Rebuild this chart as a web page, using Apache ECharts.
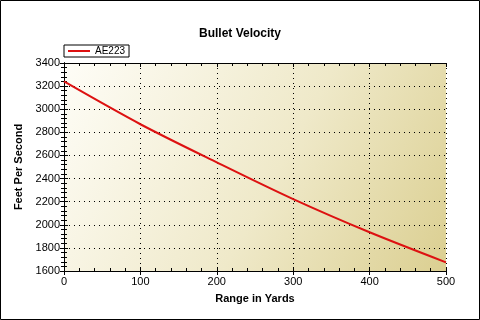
<!DOCTYPE html>
<html>
<head>
<meta charset="utf-8">
<script src="https://cdn.jsdelivr.net/npm/echarts@6/dist/echarts.min.js"></script>
<style>
  html, body { margin: 0; padding: 0; background: #fff; }
  #chart { width: 480px; height: 320px; }
</style>
</head>
<body>
<div id="chart"></div>
<script>
// range (yards) vs. velocity (ft/s)
const rangeYards = [0, 100, 200, 300, 400, 500]
const velocityAE223 = [3240, 2870, 2540, 2222, 1935, 1675]
const seriesName = 'AE223'

const font = 'Liberation Sans, Arial, sans-serif'
const chart = echarts.init(document.getElementById('chart'))

// extra axes only draw the inward ticks (top, right and the inside part of bottom/left)
const tickAxis = (pos, type) => ({
  type: 'value',
  position: pos,
  min: type === 'x' ? 0 : 1600,
  max: type === 'x' ? 500 : 3400,
  interval: type === 'x' ? 100 : 200,
  axisLine: { show: true, lineStyle: { color: '#000', width: 1 } },
  axisTick: { show: true, inside: true, length: 4, lineStyle: { color: '#000' } },
  minorTick: { show: true, splitNumber: 5, length: 3, lineStyle: { color: '#000' } },
  axisLabel: { show: false },
  splitLine: { show: false }
})

chart.setOption({
  animation: false,
  textStyle: { fontFamily: font },
  title: {
    text: 'Bullet Velocity',
    left: 'center',
    top: 23,
    textStyle: { fontSize: 12, fontWeight: 'bold', color: '#000', fontFamily: font }
  },
  legend: {
    left: 64,
    top: 45,
    padding: [1, 4, 1, 4],
    borderColor: '#000',
    borderWidth: 1,
    backgroundColor: '#fff',
    itemWidth: 22,
    itemHeight: 2,
    icon: 'rect',
    textStyle: { fontSize: 10, color: '#000', fontFamily: font },
    data: [seriesName]
  },
  grid: {
    left: 64,
    right: 34,
    top: 63,
    bottom: 49,
    show: true,
    borderWidth: 0,
    backgroundColor: new echarts.graphic.LinearGradient(0, 0, 1, 1, [
      { offset: 0, color: '#fefdf7' },
      { offset: 0.55, color: '#efe9c9' },
      { offset: 1, color: '#dbcf91' }
    ])
  },
  xAxis: [
    {
      type: 'value',
      position: 'bottom',
      min: 0,
      max: 500,
      interval: 100,
      name: 'Range in Yards',
      nameLocation: 'middle',
      nameGap: 22,
      nameTextStyle: { fontSize: 11, fontWeight: 'bold', color: '#000' },
      axisLine: { show: true, lineStyle: { color: '#000', width: 1 } },
      axisTick: { show: true, inside: false, length: 4, lineStyle: { color: '#000' } },
      axisLabel: { color: '#000', fontSize: 11, margin: 5 },
      splitLine: { show: true, lineStyle: { color: '#000', type: [1, 4], width: 1 } }
    },
    tickAxis('bottom', 'x'),
    tickAxis('top', 'x')
  ],
  yAxis: [
    {
      type: 'value',
      position: 'left',
      min: 1600,
      max: 3400,
      interval: 200,
      name: 'Feet Per Second',
      nameLocation: 'middle',
      nameGap: 36,
      nameTextStyle: { fontSize: 11, fontWeight: 'bold', color: '#000' },
      axisLine: { show: true, lineStyle: { color: '#000', width: 1 } },
      axisTick: { show: true, inside: false, length: 4, lineStyle: { color: '#000' } },
      axisLabel: { color: '#000', fontSize: 11, margin: 4, formatter: v => String(v) },
      splitLine: { show: true, lineStyle: { color: '#000', type: [1, 4], width: 1 } }
    },
    tickAxis('left', 'y'),
    tickAxis('right', 'y')
  ],
  graphic: [
    {
      type: 'rect',
      shape: { x: 0.5, y: 0.5, width: 479, height: 319 },
      style: { fill: 'none', stroke: '#000', lineWidth: 1 },
      z: 100
    }
  ],
  series: [
    {
      name: seriesName,
      type: 'line',
      xAxisIndex: 0,
      yAxisIndex: 0,
      data: rangeYards.map((r, i) => [r, velocityAE223[i]]),
      smooth: 0.3,
      showSymbol: false,
      lineStyle: { color: '#dd1111', width: 2 },
      itemStyle: { color: '#dd1111' }
    }
  ]
})
</script>
</body>
</html>
